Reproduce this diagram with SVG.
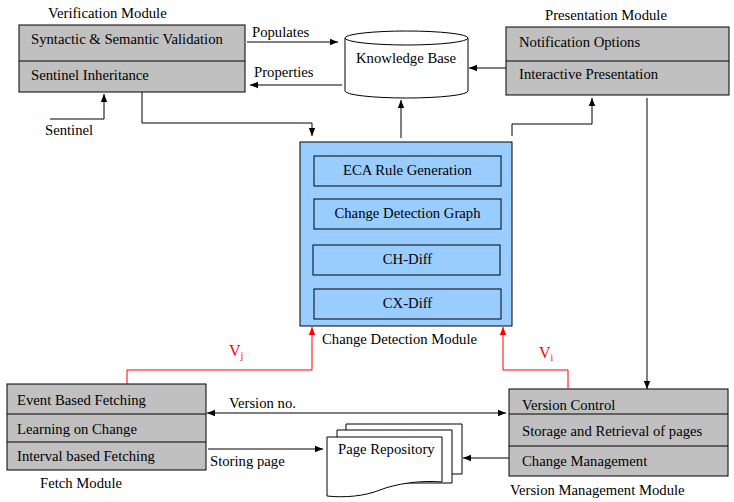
<svg xmlns="http://www.w3.org/2000/svg" width="734" height="502" viewBox="0 0 734 502">
<style>
text{font-family:'Liberation Serif','Times New Roman','DejaVu Serif',serif;font-size:14.7px;fill:#000}
.red{fill:#ff0000;font-size:16px}
.box{fill:#c0c0c0;stroke:#000;stroke-width:1}
.blue{fill:#99ccff;stroke:#000;stroke-width:1}
.ln{fill:none;stroke:#000;stroke-width:1}
.rl{fill:none;stroke:#ff0000;stroke-width:1}
.wh{fill:#fff;stroke:#000;stroke-width:1}
</style>
<defs>
<marker id="ah" viewBox="0 0 10 10" refX="10" refY="5" markerWidth="8" markerHeight="8" markerUnits="userSpaceOnUse" orient="auto"><path d="M0,1 L10,5 L0,9 z" fill="#000"/></marker>
<marker id="ahs" viewBox="0 0 10 10" refX="0" refY="5" markerWidth="8" markerHeight="8" markerUnits="userSpaceOnUse" orient="auto"><path d="M10,1 L0,5 L10,9 z" fill="#000"/></marker>
<marker id="ar" viewBox="0 0 10 10" refX="10" refY="5" markerWidth="8" markerHeight="8" markerUnits="userSpaceOnUse" orient="auto"><path d="M0,1 L10,5 L0,9 z" fill="#ff0000"/></marker>
</defs>

<g id="verification">
<text x="48" y="18">Verification Module</text>
<rect class="box" x="19" y="25" width="226" height="67"/>
<line class="ln" x1="19" y1="61" x2="245" y2="61"/>
<text x="31" y="44">Syntactic &amp; Semantic Validation</text>
<text x="31" y="80">Sentinel Inheritance</text>
</g>

<g id="knowledge-base">
<path class="wh" d="M345,38 L345,91 A61.5,7 0 0 0 468,91 L468,38 A61.5,7 0 0 0 345,38 A61.5,7 0 0 0 468,38"/>
<text x="356" y="63">Knowledge Base</text>
</g>

<g id="presentation">
<text x="545" y="20">Presentation Module</text>
<rect class="box" x="506" y="27" width="223" height="68"/>
<line class="ln" x1="506" y1="61" x2="729" y2="61"/>
<text x="519" y="47">Notification Options</text>
<text x="519" y="79">Interactive Presentation</text>
</g>

<g id="change-detection">
<rect class="blue" x="300" y="142" width="212" height="184"/>
<rect class="blue" x="314" y="156" width="187" height="30"/>
<text x="407.5" y="175" text-anchor="middle">ECA Rule Generation</text>
<rect class="blue" x="314" y="199" width="187" height="30"/>
<text x="407.5" y="218" text-anchor="middle">Change Detection Graph</text>
<rect class="blue" x="313" y="245" width="187" height="30"/>
<text x="407.5" y="264" text-anchor="middle">CH-Diff</text>
<rect class="blue" x="314" y="289" width="187" height="30"/>
<text x="407.5" y="308" text-anchor="middle">CX-Diff</text>
<text x="322" y="344">Change Detection Module</text>
</g>

<g id="fetch">
<rect class="box" x="7" y="384" width="199" height="86"/>
<line class="ln" x1="7" y1="414" x2="206" y2="414"/>
<line class="ln" x1="7" y1="442" x2="206" y2="442"/>
<text x="17" y="405">Event Based Fetching</text>
<text x="17" y="434">Learning on Change</text>
<text x="17" y="461">Interval based Fetching</text>
<text x="40" y="488">Fetch Module</text>
</g>

<g id="page-repository">
<path class="wh" d="M346,424 L462,424 L462,474 L346,474 Z"/>
<path class="wh" d="M337,430 L452,430 L452,483 L337,483 Z"/>
<path class="wh" d="M327,437 L442,437 L442,482 C420,480 395,484 380,490 C365,496 345,498 327,496 Z"/>
<text x="338" y="454">Page Repository</text>
</g>

<g id="version-management">
<rect class="box" x="509" y="389" width="219" height="87"/>
<line class="ln" x1="509" y1="414" x2="728" y2="414"/>
<line class="ln" x1="509" y1="446" x2="728" y2="446"/>
<text x="522" y="410">Version Control</text>
<text x="522" y="436">Storage and Retrieval of pages</text>
<text x="522" y="466">Change Management</text>
<text x="510" y="495">Version Management Module</text>
</g>

<g id="connectors">
<line class="ln" x1="247" y1="42" x2="338" y2="42" marker-end="url(#ah)"/>
<text x="252" y="37">Populates</text>
<line class="ln" x1="342" y1="85" x2="250" y2="85" marker-end="url(#ah)"/>
<text x="254" y="77">Properties</text>
<polyline class="ln" points="50,119 104,119 104,94" marker-end="url(#ah)"/>
<text x="45" y="135">Sentinel</text>
<polyline class="ln" points="142,92 142,123 312,123 312,136" marker-end="url(#ah)"/>
<line class="ln" x1="506" y1="68" x2="469" y2="68" marker-end="url(#ah)"/>
<line class="ln" x1="401" y1="138" x2="401" y2="100" marker-end="url(#ah)"/>
<polyline class="ln" points="512,136 512,124 592,124 592,98" marker-end="url(#ah)"/>
<line class="ln" x1="647" y1="98" x2="647" y2="389" marker-end="url(#ah)"/>
<line class="ln" x1="506" y1="413" x2="207" y2="413" marker-start="url(#ahs)" marker-end="url(#ah)"/>
<text x="229" y="408">Version no.</text>
<line class="ln" x1="208" y1="449" x2="323" y2="449" marker-end="url(#ah)"/>
<text x="210" y="466">Storing page</text>
<line class="ln" x1="509" y1="458" x2="463" y2="458" marker-end="url(#ah)"/>
<polyline class="rl" points="127,384 127,370 312,370 312,327" marker-end="url(#ar)"/>
<text class="red" x="229" y="356">V<tspan font-size="10" dy="3">j</tspan></text>
<polyline class="rl" points="568,389 568,370 503,370 503,327" marker-end="url(#ar)"/>
<text class="red" x="539" y="358">V<tspan font-size="10" dy="3">i</tspan></text>
</g>
</svg>
